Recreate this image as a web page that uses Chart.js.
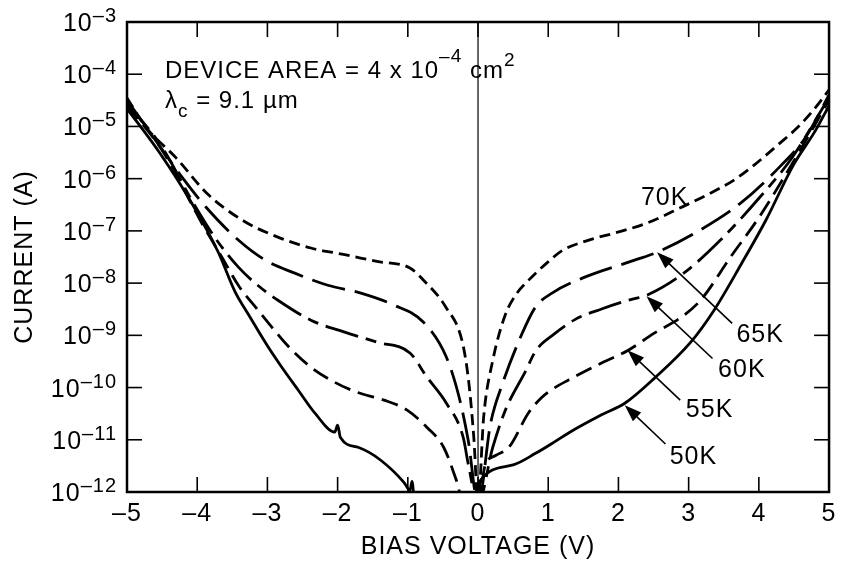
<!DOCTYPE html>
<html>
<head>
<meta charset="utf-8">
<script src="https://cdn.jsdelivr.net/npm/chart.js@4.4.1/dist/chart.umd.min.js"></script>
<style>
  html, body { margin: 0; padding: 0; background: #fff; }
  #wrap { width: 843px; height: 570px; }
</style>
</head>
<body>
<div id="wrap"><canvas id="ivChart"></canvas></div>
<script>
const FONT = "'Liberation Sans', Arial, Helvetica, sans-serif";

// bias voltage (V) / current (A) for each temperature
const v70 = [-5, -4.72, -4.3, -3.84, -3.32, -2.85, -2.38, -1.9, -1.44, -0.97, -0.78, -0.46, -0.22, -0.13, -0.06, 0,
  0.08, 0.21, 0.39, 0.55, 0.68, 0.99, 1.2, 1.6, 1.95, 2.4, 2.89, 3.3, 3.64, 3.95, 4.3, 4.55, 4.77, 5];
const i70 = [3.5e-5, 9.3e-6, 2.5e-6, 4.9e-7, 1.5e-7, 7.6e-8, 4.7e-8, 3.5e-8, 2.6e-8, 1.95e-8, 1.15e-8, 3.5e-9, 7.1e-10, 1.2e-10, 1.1e-11, 6e-13,
  2.7e-11, 3.3e-10, 2.5e-9, 6.3e-9, 1.0e-8, 2.5e-8, 4.2e-8, 6.8e-8, 9.1e-8, 1.4e-7, 2.8e-7, 5.2e-7, 9.3e-7, 1.9e-6, 4.8e-6, 9.5e-6, 2.0e-5, 5.0e-5];

const v65 = [-5, -4.6, -4.2, -3.88, -3.41, -3.03, -2.61, -2.14, -1.68, -1.2, -0.78, -0.45, -0.27, -0.14, 0,
  0.18, 0.35, 0.63, 0.82, 1.06, 1.52, 2.23, 2.55, 3.17, 3.74, 4.3, 4.67, 5];
const i65 = [3.2e-5, 5.6e-6, 1.0e-6, 2.9e-7, 6.6e-8, 2.75e-8, 1.55e-8, 9.1e-9, 6.5e-9, 3.8e-9, 1.8e-9, 3.8e-10, 6.6e-11, 9.8e-12, 6e-13,
  2.1e-11, 1.2e-10, 1.1e-9, 3.5e-9, 6.5e-9, 1.3e-8, 2.75e-8, 3.9e-8, 1.05e-7, 3.4e-7, 1.7e-6, 6.3e-6, 4.0e-5];

const v60 = [-5, -4.5, -4.06, -3.74, -3.41, -3.13, -2.85, -2.38, -1.9, -1.44, -0.97, -0.73, -0.45, -0.21, -0.14, 0,
  0.21, 0.39, 0.68, 0.82, 1.06, 1.38, 1.76, 2.14, 2.42, 2.93, 3.45, 4.02, 4.48, 5];
const i60 = [2.8e-5, 4.0e-6, 3.5e-7, 7.2e-8, 2.0e-8, 8.9e-9, 4.7e-9, 1.95e-9, 1.15e-9, 7.4e-10, 4.6e-10, 1.6e-10, 5.0e-11, 1.1e-11, 3.5e-12, 6e-13,
  7.2e-12, 3.7e-11, 2.1e-10, 5.0e-10, 1.0e-9, 2.0e-9, 3.2e-9, 4.7e-9, 6.0e-9, 1.55e-8, 6.6e-8, 4.5e-7, 2.6e-6, 3.6e-5];

const v55 = [-5, -4.5, -3.92, -3.64, -3.41, -3.13, -2.94, -2.71, -2.38, -2.04, -1.72, -1.34, -1.01, -0.73, -0.49, -0.31, -0.2, 0,
  0.1, 0.25, 0.44, 0.72, 0.9, 1.06, 1.29, 1.76, 2.14, 2.51, 2.89, 3.17, 3.6, 4.0, 4.5, 5];
const i55 = [2.5e-5, 3.5e-6, 1.3e-7, 3.0e-8, 8.9e-9, 3.0e-9, 1.45e-9, 6.3e-10, 2.45e-10, 1.26e-10, 8.1e-11, 5.75e-11, 3.7e-11, 1.74e-11, 7.2e-12, 1.7e-12, 6e-13, 6e-13,
  3.2e-12, 5.0e-12, 7.2e-12, 3.3e-11, 6.3e-11, 9.3e-11, 1.4e-10, 2.95e-10, 5.2e-10, 1.1e-9, 2.2e-9, 4.7e-9, 3.2e-8, 1.8e-7, 2.2e-6, 3.2e-5];

const v50 = [-5, -4.54, -4.06, -3.7, -3.46, -3.27, -3.0, -2.8, -2.56, -2.32, -2.04, -2.0, -1.96, -1.7, -1.39, -1.05, -0.97, -0.94, -0.9, -0.05,
  0.01, 0.5, 0.82, 1.1, 1.29, 1.76, 2.09, 2.51, 3.03, 3.36, 3.74, 4.1, 4.49, 4.81, 5];
const i50 = [2.2e-5, 3.2e-6, 3.1e-7, 3.9e-8, 6.8e-9, 2.5e-9, 6.3e-10, 2.5e-10, 8.9e-11, 3.2e-11, 1.4e-11, 1.9e-11, 1.1e-11, 7.1e-12, 4.1e-12, 1.5e-12, 1.07e-12, 1.6e-12, 6e-13, 6e-13,
  1.5e-12, 3.3e-12, 5.5e-12, 9.3e-12, 1.35e-11, 3.0e-11, 5.0e-11, 1.5e-10, 7.4e-10, 3.0e-9, 2.2e-8, 1.6e-7, 1.8e-6, 8.5e-6, 2.5e-5];

const xTicks = [-5, -4, -3, -2, -1, 0, 1, 2, 3, 4, 5];
const yTickExps = [-3, -4, -5, -6, -7, -8, -9, -10, -11, -12];

// curve labels: label anchor (left, baseline), arrow tail and tip, all in data units
const notes = [
  { text: '70K', at: [2.32, 3.1e-7] },
  { text: '65K', at: [3.68, 7.4e-10], tail: [3.62, 1.7e-9], tip: [2.55, 3.9e-8] },
  { text: '60K', at: [3.42, 1.6e-10], tail: [3.34, 3.6e-10], tip: [2.40, 5.6e-9] },
  { text: '55K', at: [2.96, 2.7e-11], tail: [2.88, 5.75e-11], tip: [2.13, 5.2e-10] },
  { text: '50K', at: [2.73, 3.5e-12], tail: [2.67, 8.3e-12], tip: [2.09, 4.6e-11] }
];

const pts = (vs, is) => vs.map((v, k) => ({ x: v, y: is[k] }));

function curve(label, vs, is, dash) {
  return {
    label: label,
    data: pts(vs, is),
    borderColor: '#000',
    borderWidth: 2.8,
    borderDash: dash,
    pointRadius: 0,
    fill: false,
    cubicInterpolationMode: 'monotone'
  };
}

function seg(ctx, x1, y1, x2, y2) {
  ctx.beginPath();
  ctx.moveTo(x1, y1);
  ctx.lineTo(x2, y2);
  ctx.stroke();
}

const framePlugin = {
  id: 'frame',
  beforeDraw(chart) {
    chart.ctx.letterSpacing = '1px';
  },
  afterDatasetsDraw(chart) {
    const { ctx, chartArea: a, scales: { x, y } } = chart;
    ctx.save();
    ctx.strokeStyle = '#000';
    ctx.fillStyle = '#000';
    ctx.letterSpacing = '1px';

    // zero bias line
    const x0 = x.getPixelForValue(0);
    ctx.lineWidth = 1.2;
    seg(ctx, x0, a.top, x0, a.bottom);

    // box
    ctx.lineWidth = 2.5;
    ctx.strokeRect(a.left, a.top, a.right - a.left, a.bottom - a.top);

    // inward ticks
    ctx.lineWidth = 1.6;
    xTicks.slice(1, -1).forEach(v => {
      const px = x.getPixelForValue(v);
      seg(ctx, px, a.bottom, px, a.bottom - 15);
      seg(ctx, px, a.top, px, a.top + 15);
    });
    yTickExps.slice(1, -1).forEach(e => {
      const py = y.getPixelForValue(Math.pow(10, e));
      seg(ctx, a.left, py, a.left + 15, py);
      seg(ctx, a.right, py, a.right - 15, py);
    });

    // decade labels 10^-n
    ctx.textAlign = 'right';
    ctx.textBaseline = 'alphabetic';
    yTickExps.forEach(e => {
      const py = y.getPixelForValue(Math.pow(10, e));
      const sup = '\u2013' + Math.abs(e);
      ctx.font = '20px ' + FONT;
      const ws = ctx.measureText(sup).width;
      ctx.fillText(sup, 117, py);
      ctx.font = '25px ' + FONT;
      ctx.fillText('10', 117 - ws, py + 9);
    });

    // device text
    ctx.textAlign = 'left';
    let tx = a.left + 38;
    const put = (s, size, dy) => {
      ctx.font = size + 'px ' + FONT;
      ctx.fillText(s, tx, dy);
      tx += ctx.measureText(s).width;
    };
    put('DEVICE AREA = 4 x 10', 24, 78);
    put('\u20134', 19, 62);
    put(' cm', 24, 78);
    put('2', 19, 66);
    tx = a.left + 38;
    put('\u03bb', 24, 108);
    put('c', 19, 117);
    put(' = 9.1 \u00b5m', 24, 108);

    // temperature labels and arrows
    notes.forEach(n => {
      ctx.font = '25px ' + FONT;
      ctx.fillText(n.text, x.getPixelForValue(n.at[0]), y.getPixelForValue(n.at[1]));
      if (!n.tip) return;
      const x1 = x.getPixelForValue(n.tail[0]), y1 = y.getPixelForValue(n.tail[1]);
      const x2 = x.getPixelForValue(n.tip[0]), y2 = y.getPixelForValue(n.tip[1]);
      const ang = Math.atan2(y2 - y1, x2 - x1);
      ctx.lineWidth = 1.6;
      seg(ctx, x1, y1, x2 - 10 * Math.cos(ang), y2 - 10 * Math.sin(ang));
      ctx.beginPath();
      ctx.moveTo(x2, y2);
      ctx.lineTo(x2 - 17 * Math.cos(ang) + 6 * Math.sin(ang), y2 - 17 * Math.sin(ang) - 6 * Math.cos(ang));
      ctx.lineTo(x2 - 17 * Math.cos(ang) - 6 * Math.sin(ang), y2 - 17 * Math.sin(ang) + 6 * Math.cos(ang));
      ctx.closePath();
      ctx.fill();
    });
    ctx.restore();
  }
};

new Chart(document.getElementById('ivChart').getContext('2d'), {
  type: 'line',
  data: {
    datasets: [
      curve('70K', v70, i70, [11, 6]),
      curve('65K', v65, i65, [34, 10]),
      curve('60K', v60, i60, [34, 8, 11, 8]),
      curve('55K', v55, i55, [17, 8]),
      curve('50K', v50, i50, [])
    ]
  },
  options: {
    responsive: true,
    maintainAspectRatio: false,
    animation: false,
    layout: { padding: { top: 22, right: 6, left: 0, bottom: 0 } },
    plugins: {
      legend: { display: false },
      tooltip: { enabled: false }
    },
    scales: {
      x: {
        type: 'linear',
        min: -5,
        max: 5,
        afterBuildTicks: s => { s.ticks = xTicks.map(v => ({ value: v })); },
        afterFit: s => { s.height = 78; },
        grid: { display: false, drawTicks: false },
        border: { display: false },
        ticks: {
          color: '#000',
          padding: 7,
          maxRotation: 0,
          autoSkip: false,
          font: { family: FONT, size: 25 },
          callback: v => (v < 0 ? '\u2013' + Math.abs(v) : String(v))
        },
        title: {
          display: true,
          text: 'BIAS VOLTAGE (V)',
          color: '#000',
          font: { family: FONT, size: 25 },
          padding: { top: 0, bottom: 8 }
        }
      },
      y: {
        type: 'logarithmic',
        min: 1e-12,
        max: 1e-3,
        afterFit: s => { s.width = 127; },
        grid: { display: false, drawTicks: false },
        border: { display: false },
        ticks: { display: false },
        title: {
          display: true,
          text: 'CURRENT (A)',
          color: '#000',
          font: { family: FONT, size: 25 },
          padding: { top: 10, bottom: 0 }
        }
      }
    }
  },
  plugins: [framePlugin]
});
</script>
</body>
</html>
